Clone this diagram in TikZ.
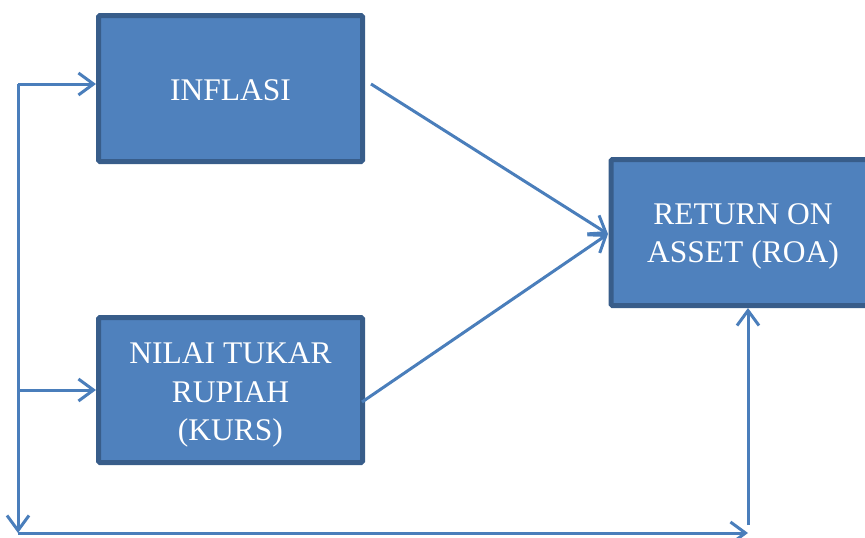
\documentclass[tikz,border=0pt]{standalone}
\usepackage{fontspec}
\setmainfont{Liberation Serif}
\usetikzlibrary{arrows.meta}
\definecolor{boxfill}{HTML}{4F81BD}
\definecolor{boxline}{HTML}{385D8A}
\definecolor{conn}{HTML}{4A7EBB}
\newcommand\mytop[1]{\rule{0pt}{#1}}
\begin{document}
\begin{tikzpicture}[x=1pt,y=-1pt,
  varbox/.style={draw=boxline, fill=boxfill, line width=5pt, rounded corners=1.5pt,
    minimum width=264pt, minimum height=146pt, inner sep=0pt, text=white,
    align=center, font=\fontsize{31.5}{38.5}\selectfont},
  conline/.style={draw=conn, line width=3pt, -{Straight Barb[length=15pt,width=22pt,line width=3pt]}}]
\useasboundingbox (0,0) rectangle (865,538);
\node[varbox] (inf) at (230.5,88.5) {\mytop{25pt}INFLASI};
\node[varbox, minimum height=145pt] (kurs) at (230.5,390) {\mytop{31pt}NILAI TUKAR\\RUPIAH\\(KURS)};
\node[varbox] (roa) at (743,232.5) {\mytop{29pt}RETURN ON\\ASSET (ROA)};
\coordinate (c1) at (18,84);
\coordinate (c2) at (18,390);
\coordinate (c3) at (18,533);
\coordinate (c4) at (748,533);
\coordinate (c5) at (748,525);
\coordinate (ia) at (371,84);
\coordinate (ka) at (362,402);
\coordinate (ra) at (608,234);
\draw[conline] (c1) -- (c1 -| inf.west);
\draw[conline] (c2) -- (c2 -| kurs.west);
\draw[conline] (c1) -- (c3);
\draw[conline] (c3) -- (c4);
\draw[conline] (c5) -- (c5 |- roa.south);
\draw[conline] (ia) -- (ra);
\draw[conline] (ka) -- (ra);
\end{tikzpicture}
\end{document}
